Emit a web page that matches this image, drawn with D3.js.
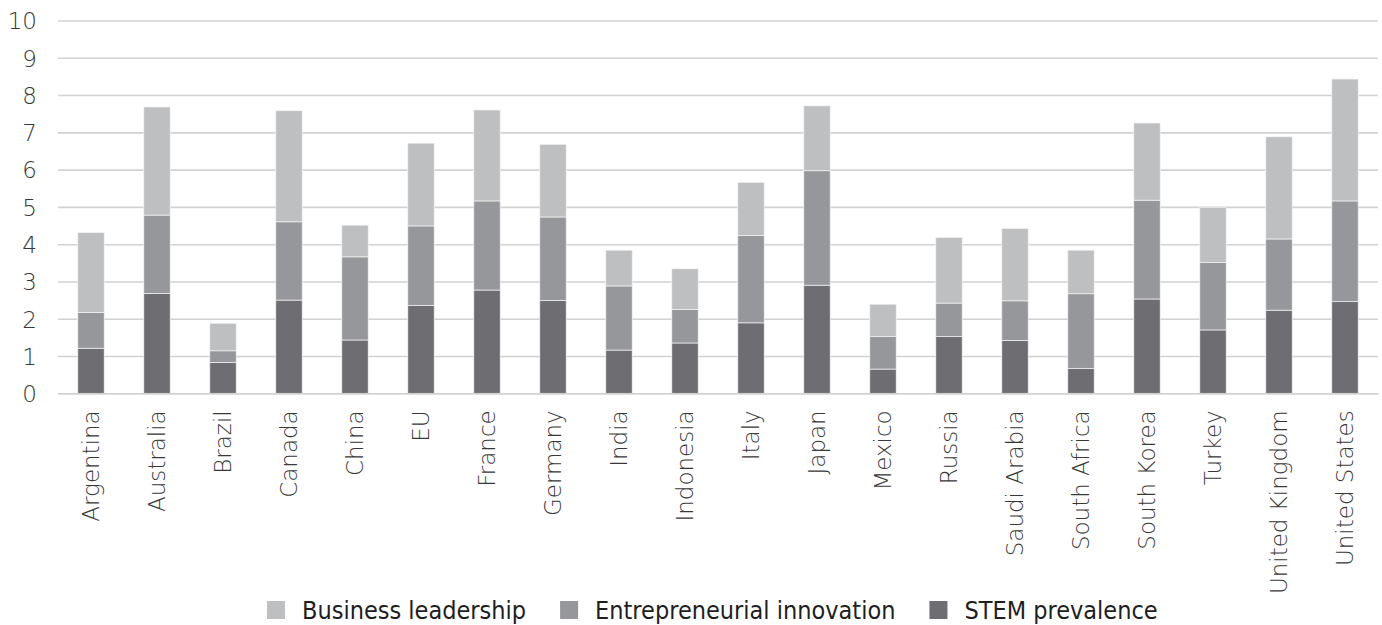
<!DOCTYPE html>
<html>
<head>
<meta charset="utf-8">
<script src="https://cdn.jsdelivr.net/npm/d3@7"></script>
<style>
  html, body { margin: 0; padding: 0; background: #ffffff; }
  svg { display: block; }
  .axis text { font-family: "DejaVu Sans", sans-serif; font-weight: 300; fill: #383838; }
  .legend text { font-family: "DejaVu Sans Condensed", "DejaVu Sans", sans-serif; fill: #1e1e1e; }
</style>
</head>
<body>
<svg id="chart" width="1382" height="625"></svg>
<script>
// Countries along the x axis
const categories = [
  "Argentina", "Australia", "Brazil", "Canada", "China", "EU", "France",
  "Germany", "India", "Indonesia", "Italy", "Japan", "Mexico", "Russia",
  "Saudi Arabia", "South Africa", "South Korea", "Turkey", "United Kingdom",
  "United States"
];

// Stacked segment values, bottom to top
const stemPrevalence = [
  1.21, 2.68, 0.83, 2.50, 1.43, 2.36, 2.77, 2.49, 1.16, 1.35,
  1.89, 2.90, 0.65, 1.52, 1.42, 0.67, 2.53, 1.70, 2.23, 2.46
];
const entrepreneurialInnovation = [
  0.96, 2.10, 0.31, 2.10, 2.23, 2.13, 2.39, 2.24, 1.72, 0.90,
  2.34, 3.07, 0.87, 0.90, 1.06, 2.00, 2.65, 1.81, 1.91, 2.70
];
const businessLeadership = [
  2.14, 2.90, 0.74, 2.98, 0.85, 2.22, 2.44, 1.95, 0.96, 1.09,
  1.43, 1.74, 0.87, 1.76, 1.94, 1.17, 2.07, 1.48, 2.74, 3.27
];

const seriesKeys = ["stem", "entre", "business"];
const seriesLabels = {
  stem: "STEM prevalence",
  entre: "Entrepreneurial innovation",
  business: "Business leadership"
};
const legendOrder = ["business", "entre", "stem"];
const yTicks = [0, 1, 2, 3, 4, 5, 6, 7, 8, 9, 10];

const colors = { stem: "#6e6e72", entre: "#96979a", business: "#bebfc1" };

const rows = categories.map((c, i) => ({
  country: c,
  stem: stemPrevalence[i],
  entre: entrepreneurialInnovation[i],
  business: businessLeadership[i]
}));

const svg = d3.select("#chart");
const plot = { left: 58, right: 1378, top: 20.5, bottom: 393.3 };

const x = d3.scaleBand()
  .domain(categories)
  .range([plot.left, plot.right])
  .paddingInner(0.6)
  .paddingOuter(0.3);

const y = d3.scaleLinear()
  .domain([0, 10])
  .range([plot.bottom, plot.top]);

// Horizontal gridlines and value labels
const yAxis = svg.append("g")
  .attr("class", "axis y-axis")
  .attr("transform", `translate(${plot.left},0)`)
  .call(d3.axisLeft(y)
    .tickValues(yTicks)
    .tickSize(-(plot.right - plot.left))
    .tickPadding(21)
    .tickFormat(d3.format("d")));
yAxis.select(".domain").remove();
yAxis.selectAll(".tick line")
  .attr("stroke", "#d2d2d2")
  .attr("stroke-width", 1.6);
yAxis.selectAll(".tick text")
  .style("font-size", "23px")
  .attr("dy", "0.36em");

// Stacked bars
const stacked = d3.stack().keys(seriesKeys)(rows);

svg.append("g")
  .selectAll("g")
  .data(stacked)
  .join("g")
  .attr("fill", d => colors[d.key])
  .selectAll("rect")
  .data(d => d)
  .join("rect")
  .attr("x", d => x(d.data.country))
  .attr("width", x.bandwidth())
  .attr("y", d => y(d[1]))
  .attr("height", d => y(d[0]) - y(d[1]))
  .attr("stroke", "#f4f4f4")
  .attr("stroke-width", 0.7);

// Category axis with rotated labels
const xAxis = svg.append("g")
  .attr("class", "axis x-axis")
  .attr("transform", `translate(0,${plot.bottom})`)
  .call(d3.axisBottom(x).tickSize(0));
xAxis.select(".domain")
  .attr("stroke", "#d2d2d2")
  .attr("stroke-width", 1.6);
xAxis.selectAll(".tick text")
  .style("font-size", "23px")
  .attr("text-anchor", "end")
  .attr("transform", "rotate(-90)")
  .attr("x", -17)
  .attr("y", 0)
  .attr("dy", "0.36em");

// Legend
const legend = svg.append("g").attr("class", "legend");
let lx = 267;
const sq = 18;
const baseline = 619;
legendOrder.forEach(k => {
  legend.append("rect")
    .attr("x", lx)
    .attr("y", baseline - sq)
    .attr("width", sq)
    .attr("height", sq)
    .attr("fill", colors[k]);
  const t = legend.append("text")
    .attr("x", lx + sq + 17)
    .attr("y", baseline)
    .style("font-size", "25px")
    .text(seriesLabels[k]);
  lx = lx + sq + 17 + t.node().getComputedTextLength() + 34;
});
</script>
</body>
</html>
